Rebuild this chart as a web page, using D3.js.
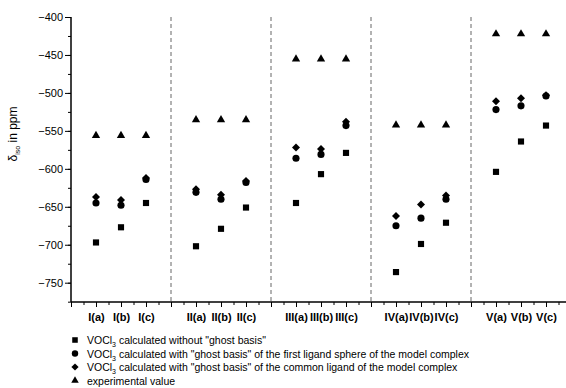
<!DOCTYPE html>
<html>
<head>
<meta charset="utf-8">
<script src="https://cdn.jsdelivr.net/npm/d3@7"></script>
<style>
  body { margin: 0; background: #fff; }
  svg { display: block; font-family: "Liberation Sans", Arial, sans-serif; }
</style>
</head>
<body>
<div class="center"></div>
<script>
// categories and positions on the numeric x axis
const categories = ["I(a)", "I(b)", "I(c)", "II(a)", "II(b)", "II(c)", "III(a)", "III(b)", "III(c)",
                    "IV(a)", "IV(b)", "IV(c)", "V(a)", "V(b)", "V(c)"];
const positions = [1, 2, 3, 5, 6, 7, 9, 10, 11, 13, 14, 15, 17, 18, 19];
const separators = [4, 8, 12, 16];

// series values (ppm)
const noGhost      = [-697, -677, -645, -702, -679, -651, -645, -607, -579, -736, -699, -671, -604, -564, -543];
const ghostSphere  = [-645, -648, -614, -631, -640, -618, -586, -581, -543, -675, -665, -640, -522, -517, -504];
const ghostLigand  = [-637, -641, -612, -627, -634, -616, -572, -574, -538, -662, -647, -635, -511, -507, -503];
const experimental = [-555, -555, -555, -534, -534, -534, -454, -454, -454, -541, -541, -541, -421, -421, -421];

const yTicks = [-750, -700, -650, -600, -550, -500, -450, -400];

const margin = {top: 17, left: 71};
const svgW = 566, svgH = 388;
const plotBottom = 302;

const svg = d3.select(".center").append("svg")
    .attr("width", svgW)
    .attr("height", svgH);

const xScale = d3.scaleLinear().domain([0, 20]).range([margin.left, margin.left + 500]);
const yScale = d3.scaleLinear().domain([-400, -750]).range([margin.top, 282.7]);

// dashed separators
svg.selectAll(".sep")
   .data(separators)
   .enter().append("line")
   .attr("x1", d => xScale(d)).attr("x2", d => xScale(d))
   .attr("y1", margin.top).attr("y2", plotBottom)
   .attr("stroke", "#666")
   .attr("stroke-width", 1)
   .attr("stroke-dasharray", "4,3");

// y axis
const yAxis = d3.axisLeft(yScale).tickValues(yTicks).tickSize(6).tickSizeOuter(0).tickPadding(2);
const yMinor = d3.axisLeft(yScale).tickValues(d3.range(-775, -399, 25)).tickSize(3).tickFormat("").tickSizeOuter(0);
svg.append("g")
   .attr("transform", `translate(${margin.left},0)`)
   .call(yMinor)
   .call(g => g.select(".domain").remove());
const gy = svg.append("g")
   .attr("transform", `translate(${margin.left},0)`)
   .call(yAxis);
gy.select(".domain").attr("d", `M0,${margin.top}V${plotBottom}`).attr("stroke-width", 1.5);
gy.selectAll("text").attr("font-size", "11px").attr("font-family", "Liberation Sans, Arial, sans-serif");

// x axis
const xMinor = d3.axisBottom(xScale).tickValues(d3.range(0.5, 20, 1)).tickSize(3).tickFormat("").tickSizeOuter(0);
svg.append("g")
   .attr("transform", `translate(0,${plotBottom})`)
   .call(xMinor)
   .call(g => g.select(".domain").remove());
const xAxis = d3.axisBottom(xScale)
    .tickValues(d3.range(0, 20, 1))
    .tickSize(5)
    .tickSizeOuter(0)
    .tickPadding(6)
    .tickFormat(d => { const i = positions.indexOf(d); return i >= 0 ? categories[i] : ""; });
const gx = svg.append("g")
   .attr("transform", `translate(0,${plotBottom})`)
   .call(xAxis);
gx.select(".domain").attr("d", `M${margin.left},0H${svgW}`).attr("stroke-width", 1.5);
gx.selectAll("text").attr("font-size", "11px").attr("font-weight", "700")
  .attr("font-family", "Liberation Sans, Arial, sans-serif");

// y axis title
const yTitle = svg.append("text")
   .attr("transform", "translate(17,134) rotate(-90)")
   .attr("text-anchor", "middle")
   .attr("font-size", "12px");
yTitle.append("tspan").text("δ");
yTitle.append("tspan").attr("font-size", "7px").attr("dy", 3).text("iso");
yTitle.append("tspan").attr("dy", -3).text(" in ppm");

// symbols
const shapes = {
  square:   d3.symbol().type(d3.symbolSquare).size(38)(),
  circle:   d3.symbol().type(d3.symbolCircle).size(40)(),
  diamond:  d3.symbol().type(d3.symbolSquare).size(32)(),
  triangle: d3.symbol().type(d3.symbolTriangle).size(30)()
};
// triangle centroid sits above its box centre; nudge so the box centre is on the value
const shapeOffset = {square: 0, circle: 0, diamond: 0, triangle: 1};
const series = [
  {name: "noGhost", values: noGhost, shape: "square"},
  {name: "ghostSphere", values: ghostSphere, shape: "circle"},
  {name: "ghostLigand", values: ghostLigand, shape: "diamond"},
  {name: "experimental", values: experimental, shape: "triangle"}
];

series.forEach(s => {
  svg.selectAll(".pt-" + s.name)
     .data(s.values)
     .enter().append("path")
     .attr("d", shapes[s.shape])
     .attr("transform", (d, i) => `translate(${xScale(positions[i])},${yScale(d) + shapeOffset[s.shape]})` + (s.shape === "diamond" ? " rotate(45)" : ""))
     .attr("fill", "#000");
});

// legend
const legendItems = [
  {shape: "square",   parts: ["VOCl", "3", " calculated without \"ghost basis\""]},
  {shape: "circle",   parts: ["VOCl", "3", " calculated with \"ghost basis\" of the first ligand sphere of the model complex"]},
  {shape: "diamond",  parts: ["VOCl", "3", " calculated with \"ghost basis\" of the common ligand of the model complex"]},
  {shape: "triangle", parts: ["experimental value"]}
];
const legend = svg.selectAll(".legend")
   .data(legendItems)
   .enter().append("g")
   .attr("transform", (d, i) => `translate(75,${340 + i * 13.5})`);
legend.append("path")
   .attr("d", d => shapes[d.shape])
   .attr("transform", d => d.shape === "diamond" ? "rotate(45) scale(0.9)" : "scale(0.9)")
   .attr("fill", "#000");
legend.append("text")
   .attr("x", 12)
   .attr("y", 4)
   .attr("font-size", "10.5px")
   .each(function(d) {
     const t = d3.select(this);
     if (d.parts.length === 1) { t.text(d.parts[0]); return; }
     t.append("tspan").text(d.parts[0]);
     t.append("tspan").attr("font-size", "7px").attr("dy", 3).text(d.parts[1]);
     t.append("tspan").attr("dy", -3).text(d.parts[2]);
   });
</script>
</body>
</html>
